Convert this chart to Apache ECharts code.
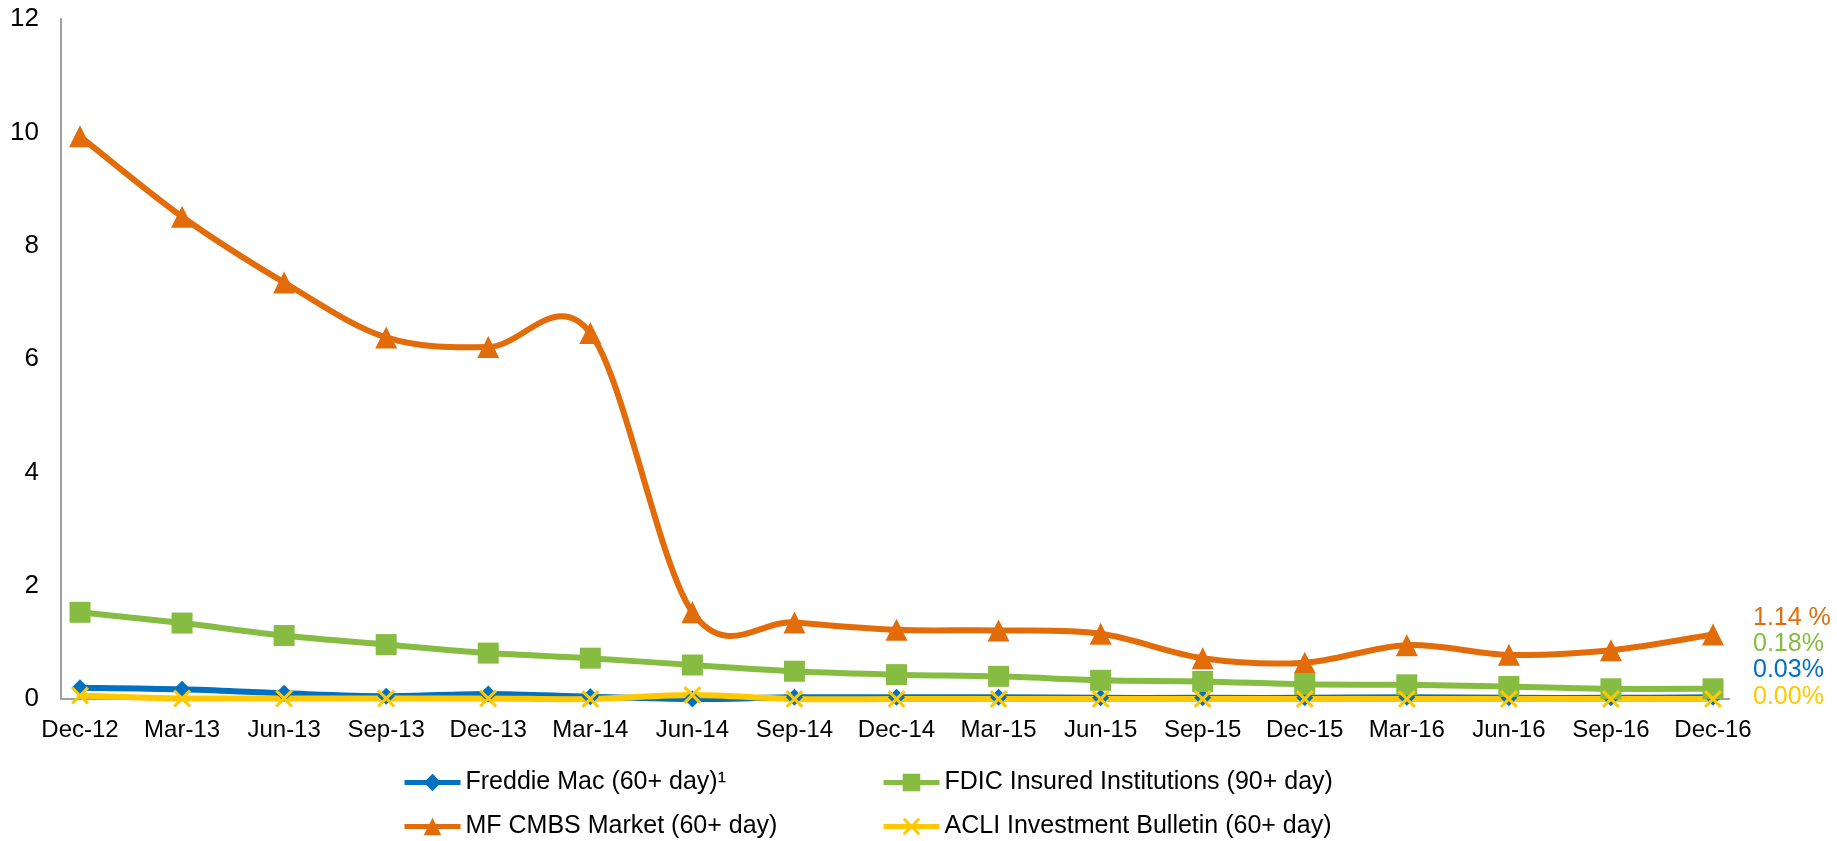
<!DOCTYPE html>
<html>
<head>
<meta charset="utf-8">
<script src="https://cdn.jsdelivr.net/npm/echarts@6/dist/echarts.min.js"></script>
<style>
  html, body { margin: 0; padding: 0; background: #fff; }
  #chart { width: 1837px; height: 841px; }
</style>
</head>
<body>
<div id="chart"></div>
<script>
var quarters = ['Dec-12', 'Mar-13', 'Jun-13', 'Sep-13', 'Dec-13', 'Mar-14', 'Jun-14', 'Sep-14', 'Dec-14',
    'Mar-15', 'Jun-15', 'Sep-15', 'Dec-15', 'Mar-16', 'Jun-16', 'Sep-16', 'Dec-16'];

var freddieMac = [0.20, 0.17, 0.10, 0.05, 0.09, 0.04, 0.00, 0.03, 0.03, 0.03, 0.02, 0.02, 0.02, 0.03, 0.02, 0.02, 0.03];
var fdicInsured = [1.53, 1.34, 1.12, 0.96, 0.81, 0.72, 0.60, 0.49, 0.43, 0.40, 0.33, 0.31, 0.26, 0.25, 0.22, 0.18, 0.18];
var mfCmbs = [9.93, 8.51, 7.35, 6.38, 6.21, 6.46, 1.53, 1.35, 1.22, 1.21, 1.15, 0.72, 0.64, 0.95, 0.78, 0.86, 1.14];
var acliBulletin = [0.06, 0.01, 0.01, 0.01, 0.01, 0.00, 0.07, 0.00, 0.00, 0.00, 0.00, 0.00, 0.00, 0.00, 0.00, 0.00, 0.00];

var seriesNames = ['Freddie Mac (60+ day)¹', 'FDIC Insured Institutions (90+ day)', 'MF CMBS Market (60+ day)', 'ACLI Investment Bulletin (60+ day)'];
var endLabels = ['1.14 %', '0.18%', '0.03%', '0.00%'];
var yTicks = [0, 2, 4, 6, 8, 10, 12];

var colors = {
    blue: '#0070C0',
    green: '#86BC42',
    orange: '#E36C0A',
    yellow: '#FFC800'
};
var fontFamily = '"Liberation Sans", Arial, sans-serif';
var lineWidth = 6;

// X mark for the ACLI series (filled outline, so it renders like a stroked cross)
var crossSymbol = 'path://M0,1.2L1.2,0L5,3.8L8.8,0L10,1.2L6.2,5L10,8.8L8.8,10L5,6.2L1.2,10L0,8.8L3.8,5Z';

// smoothed line the way the spreadsheet draws it (Catmull-Rom through the points),
// positions come from the axes via api.coord
function smoothLine(values, color) {
    return {
        type: 'custom',
        xAxisIndex: 1,
        yAxisIndex: 1,
        silent: true,
        data: values.map(function (v, i) { return [i, v]; }),
        renderItem: function (params, api) {
            if (params.dataIndex !== 0) return null;
            var pts = values.map(function (v, i) { return api.coord([i, v]); });
            var children = [];
            for (var i = 0; i < pts.length - 1; i++) {
                var p0 = pts[Math.max(i - 1, 0)];
                var p1 = pts[i];
                var p2 = pts[i + 1];
                var p3 = pts[Math.min(i + 2, pts.length - 1)];
                children.push({
                    type: 'bezierCurve',
                    shape: {
                        x1: p1[0], y1: p1[1], x2: p2[0], y2: p2[1],
                        cpx1: p1[0] + (p2[0] - p0[0]) / 6, cpy1: p1[1] + (p2[1] - p0[1]) / 6,
                        cpx2: p2[0] - (p3[0] - p1[0]) / 6, cpy2: p2[1] - (p3[1] - p1[1]) / 6
                    },
                    style: { stroke: color, lineWidth: lineWidth, fill: null, lineCap: 'round' }
                });
            }
            return { type: 'group', children: children };
        }
    };
}

function markerSeries(name, data, color, symbol, symbolSize) {
    return {
        name: name,
        type: 'line',
        xAxisIndex: 1,
        yAxisIndex: 1,
        data: data,
        symbol: symbol,
        symbolSize: symbolSize,
        showAllSymbol: true,
        lineStyle: { color: color, width: 0 },
        itemStyle: { color: color },
        emphasis: { disabled: true }
    };
}

function legendItem(name, color) {
    return { name: name, lineStyle: { color: color, width: 5 } };
}

var chart = echarts.init(document.getElementById('chart'));

var legendText = { color: '#000', fontSize: 25, fontFamily: fontFamily };
var labelFont = '25px ' + fontFamily;

var option = {
    animation: false,
    textStyle: { fontFamily: fontFamily },
    grid: [
        // frame grid: carries the axis lines
        { left: 61, right: 108, top: 19, bottom: 142 },
        // data grid: points are inset from the axis lines
        { left: 80, right: 124, top: 19, bottom: 142 }
    ],
    xAxis: [
        {
            gridIndex: 0, type: 'value', min: 0, max: 1,
            axisLine: { show: true, lineStyle: { color: '#A0A0A0', width: 2 } },
            axisTick: { show: false }, axisLabel: { show: false }, splitLine: { show: false }
        },
        {
            gridIndex: 1, type: 'category', data: quarters, boundaryGap: false,
            axisLine: { show: false }, axisTick: { show: false }, splitLine: { show: false },
            axisLabel: { interval: 0, color: '#000', fontSize: 24, margin: 19, fontFamily: fontFamily }
        }
    ],
    yAxis: [
        {
            gridIndex: 0, type: 'value', min: yTicks[0], max: yTicks[yTicks.length - 1], interval: 2,
            axisLine: { show: true, lineStyle: { color: '#A0A0A0', width: 2 } },
            axisTick: { show: false }, splitLine: { show: false },
            axisLabel: { color: '#000', fontSize: 26, margin: 22, fontFamily: fontFamily }
        },
        {
            gridIndex: 1, type: 'value', min: yTicks[0], max: yTicks[yTicks.length - 1], show: false
        }
    ],
    legend: [
        {
            data: [legendItem(seriesNames[0], colors.blue), legendItem(seriesNames[2], colors.orange)],
            orient: 'vertical', left: 402, top: 770, padding: 0,
            itemWidth: 56, itemHeight: 22, itemGap: 19,
            textStyle: legendText
        },
        {
            data: [legendItem(seriesNames[1], colors.green), legendItem(seriesNames[3], colors.yellow)],
            orient: 'vertical', left: 881, top: 770, padding: 0,
            itemWidth: 56, itemHeight: 22, itemGap: 19,
            textStyle: legendText
        }
    ],
    graphic: [
        { type: 'text', left: 1753, top: 606, style: { text: endLabels[0], fill: colors.orange, font: labelFont } },
        { type: 'text', left: 1753, top: 632, style: { text: endLabels[1], fill: colors.green, font: labelFont } },
        { type: 'text', left: 1753, top: 658, style: { text: endLabels[2], fill: colors.blue, font: labelFont } },
        { type: 'text', left: 1753, top: 685, style: { text: endLabels[3], fill: colors.yellow, font: labelFont } }
    ],
    series: [
        smoothLine(freddieMac, colors.blue),
        markerSeries(seriesNames[0], freddieMac, colors.blue, 'diamond', 17),
        smoothLine(fdicInsured, colors.green),
        markerSeries(seriesNames[1], fdicInsured, colors.green, 'rect', 21),
        smoothLine(mfCmbs, colors.orange),
        markerSeries(seriesNames[2], mfCmbs, colors.orange, 'triangle', 22),
        smoothLine(acliBulletin, colors.yellow),
        markerSeries(seriesNames[3], acliBulletin, colors.yellow, crossSymbol, 18)
    ]
};

chart.setOption(option);
</script>
</body>
</html>
